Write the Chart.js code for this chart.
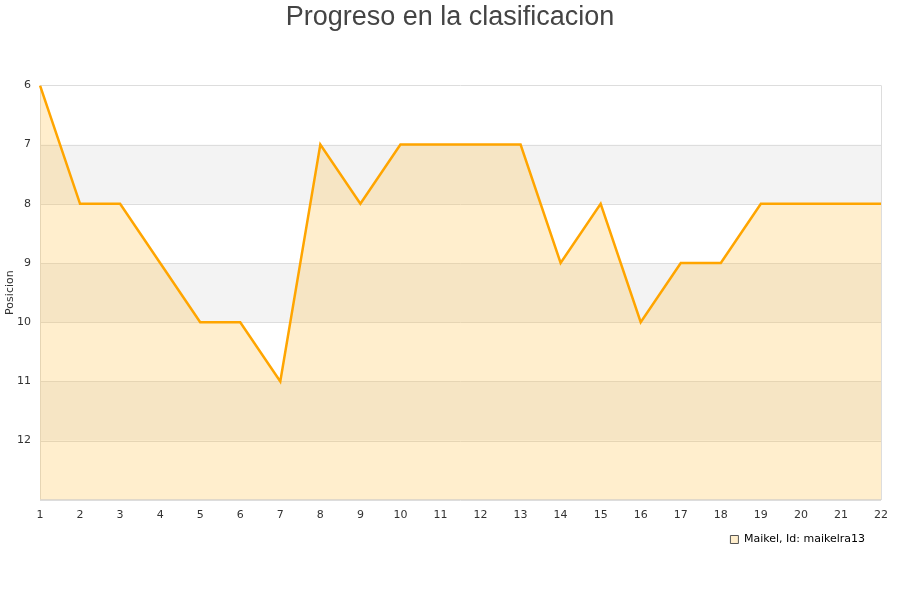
<!DOCTYPE html>
<html><head><meta charset="utf-8">
<script src="https://cdn.jsdelivr.net/npm/chart.js@4"></script>
<style>html,body{margin:0;padding:0;background:#fff}#w{width:900px;height:600px}</style>
</head><body><div id="w"><canvas id="c" width="900" height="600"></canvas></div>
<script>
const jornadas = ['1','2','3','4','5','6','7','8','9','10','11','12','13','14','15','16','17','18','19','20','21','22'];
const posiciones = [6,8,8,9,10,10,11,7,8,7,7,7,7,9,8,10,9,9,8,8,8,8];
const yTicks = [6,7,8,9,10,11,12];
const bandStarts = [7,9,11];
const seriesName = 'Maikel, Id: maikelra13';

const bands = {
  id:'bands',
  afterLayout(chart){
    const t = chart.titleBlock;
    if (t){ t.left = 0; t.right = chart.width; t.width = chart.width; }
    const l = chart.legend;
    if (l){ l.left -= 6; l.right -= 6; const h = l.height; l.top = 524; l.bottom = 524 + h; }
  },
  beforeDatasetsDraw(chart){
    const {ctx, chartArea:a, scales:{y}} = chart;
    ctx.save();
    ctx.fillStyle = '#f3f3f3';
    bandStarts.forEach(s=>{
      const y1 = y.getPixelForValue(s), y2 = y.getPixelForValue(s+1);
      ctx.fillRect(a.left, Math.min(y1,y2), a.right-a.left, Math.abs(y2-y1));
    });
    ctx.strokeStyle = '#dddddd'; ctx.lineWidth = 1;
    yTicks.concat([13]).forEach(v=>{
      const p = Math.round(y.getPixelForValue(v))+0.5;
      ctx.beginPath(); ctx.moveTo(a.left,p); ctx.lineTo(a.right,p); ctx.stroke();
    });
    ctx.beginPath(); ctx.moveTo(a.right+0.5,a.top); ctx.lineTo(a.right+0.5,a.bottom); ctx.stroke();
    ctx.beginPath(); ctx.moveTo(a.left+0.5,a.top); ctx.lineTo(a.left+0.5,a.bottom); ctx.stroke();
    ctx.restore();
  }
};

new Chart(document.getElementById('c'), {
  type:'line',
  data:{labels:jornadas, datasets:[{
    label:seriesName, data:posiciones,
    borderColor:'#ffa500', borderWidth:2.5,
    backgroundColor:'rgba(255,190,60,0.26)',
    fill:{value:13}, pointRadius:0, tension:0
  }]},
  options:{
    responsive:false, animation:false,
    layout:{padding:{left:0,right:19,top:0,bottom:38}},
    plugins:{
      title:{display:true,text:'Progreso en la clasificacion',color:'#444',
        font:{family:'Liberation Sans, Arial',size:27,weight:'normal'},padding:{top:1,bottom:52}},
      legend:{position:'bottom',align:'end',
        labels:{boxWidth:8,boxHeight:8,padding:10,color:'#000',font:{family:'DejaVu Sans',size:11},
          generateLabels(chart){return [{text:seriesName,fillStyle:'#ffeecc',strokeStyle:'#555',lineWidth:1,hidden:false,datasetIndex:0}];}}},
      tooltip:{enabled:false}
    },
    scales:{
      x:{offset:false,grid:{display:false,drawTicks:false},border:{display:true,color:'#dddddd'},
        ticks:{color:'#333',font:{family:'DejaVu Sans',size:11},maxRotation:0,padding:9}},
      y:{reverse:true,min:6,max:13,grid:{display:false,drawTicks:false},border:{display:false},
        afterBuildTicks(s){s.ticks = yTicks.concat([13]).map(v=>({value:v}));},
        afterFit(s){ s.width = 40; },
        ticks:{color:'#333',font:{family:'DejaVu Sans',size:11},padding:9,
          callback:(v)=> v===13?'':String(v)},
        title:{display:true,text:'Posicion',color:'#333',font:{family:'DejaVu Sans',size:11},padding:{top:4,bottom:2}}}
    }
  },
  plugins:[bands]
});
</script></body></html>
